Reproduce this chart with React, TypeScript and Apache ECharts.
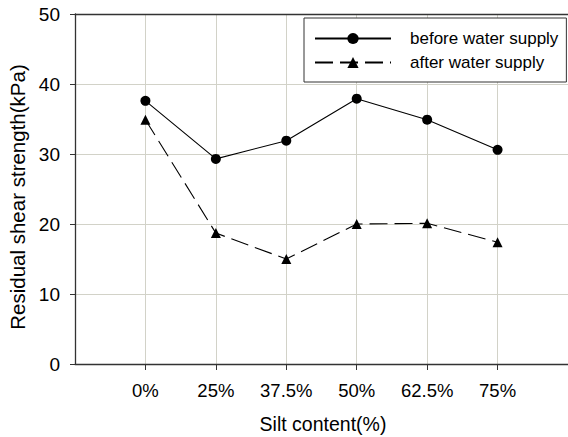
import React, { useEffect, useRef } from "react";
import * as echarts from "echarts";

const categories = ["", "0%", "25%", "37.5%", "50%", "62.5%", "75%", ""];
const beforeValues = [37.6, 29.3, 31.9, 37.9, 34.9, 30.6];
const afterValues = [34.9, 18.7, 15.0, 20.0, 20.1, 17.4];
const yTicks = [0, 10, 20, 30, 40, 50];

const FONT = "Liberation Sans, Arial, sans-serif";

export default function App() {
  const ref = useRef<HTMLDivElement>(null);
  useEffect(() => {
    document.body.style.margin = "0";
    if (!ref.current) return;
    const chart = echarts.init(ref.current, undefined, { renderer: "svg" });
    const pad = (v: number[]) => ["-", ...v, "-"];
    const inner = (i: number) => i > 0 && i < categories.length - 1;
    chart.setOption({
      animation: false,
      backgroundColor: "#fff",
      textStyle: { fontFamily: FONT },
      grid: { left: 75, top: 14, width: 496, height: 350, containLabel: false },
      xAxis: [
        {
          type: "category",
          data: categories,
          boundaryGap: false,
          axisLine: { lineStyle: { color: "#333", width: 1.3 } },
          axisTick: { show: true, length: 6, interval: (i: number) => inner(i), lineStyle: { color: "#333" } },
          axisLabel: { interval: (i: number) => inner(i), color: "#000", fontSize: 18.5, margin: 17, fontFamily: FONT },
          splitLine: { show: true, interval: (i: number) => inner(i), lineStyle: { color: "#d2d2c8", width: 1 } },
        },
        {
          type: "category",
          data: categories,
          position: "top",
          boundaryGap: false,
          axisLine: { lineStyle: { color: "#333", width: 1.3 } },
          axisTick: { show: false },
          axisLabel: { show: false },
          splitLine: { show: false },
        },
      ],
      yAxis: {
        type: "value",
        min: yTicks[0],
        max: yTicks[yTicks.length - 1],
        interval: 10,
        axisLine: { show: true, lineStyle: { color: "#333", width: 1.3 } },
        axisTick: { show: true, length: 5, lineStyle: { color: "#333" } },
        axisLabel: { color: "#000", fontSize: 19, margin: 15, fontFamily: FONT },
        splitLine: { show: true, lineStyle: { color: "#d2d2c8", width: 1 } },
      },
      legend: {
        left: 304,
        top: 18,
        orient: "vertical",
        backgroundColor: "#fff",
        borderColor: "#333",
        borderWidth: 1,
        borderRadius: 0,
        padding: [12, 8, 11, 10],
        itemWidth: 76,
        itemHeight: 14,
        itemGap: 7,
        textStyle: { color: "#000", fontSize: 17, fontFamily: FONT, padding: [0, 0, 0, 14] },
        data: ["before water supply", "after water supply"],
      },
      graphic: [
        {
          type: "text",
          x: 323,
          y: 424,
          style: { text: "Silt content(%)", fontSize: 19.5, fontFamily: FONT, fill: "#000", textAlign: "center", textVerticalAlign: "middle" },
        },
        {
          type: "text",
          x: 17,
          y: 197,
          rotation: Math.PI / 2,
          style: { text: "Residual shear strength(kPa)", fontSize: 20.5, fontFamily: FONT, fill: "#000", textAlign: "center", textVerticalAlign: "middle" },
        },
      ],
      series: [
        {
          name: "before water supply",
          type: "line",
          data: pad(beforeValues),
          symbol: "circle",
          symbolSize: 10,
          showAllSymbol: true,
          lineStyle: { color: "#000", width: 1.1 },
          itemStyle: { color: "#000" },
          z: 3,
        },
        {
          name: "after water supply",
          type: "line",
          data: pad(afterValues),
          symbol: "triangle",
          symbolSize: 10,
          showAllSymbol: true,
          lineStyle: { color: "#000", width: 1.1, type: [18, 7] },
          itemStyle: { color: "#000" },
          z: 3,
        },
      ],
    });
    return () => chart.dispose();
  }, []);
  return <div ref={ref} style={{ width: 568, height: 437 }} />;
}
